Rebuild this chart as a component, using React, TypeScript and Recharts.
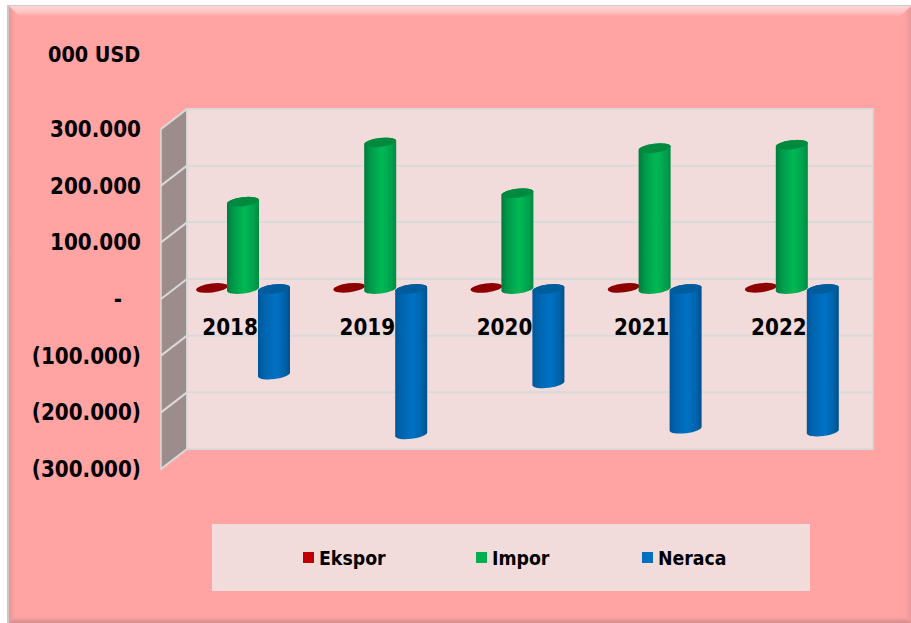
import React from "react";
import { BarChart, Bar, XAxis, YAxis, Legend, ReferenceArea, ReferenceLine } from "recharts";

const years = ["2018", "2019", "2020", "2021", "2022"];
const ekspor = [1800, 2100, 1900, 2000, 2200];
const impor = [154000, 258500, 169000, 248500, 254500];
const neraca = [-151000, -256500, -166500, -246500, -251500];
const yTicks = [-300000, -200000, -100000, 0, 100000, 200000, 300000];

const chartData = years.map((year, i) => ({
  year,
  Ekspor: ekspor[i],
  Impor: impor[i],
  Neraca: neraca[i],
}));

const FONT = "'DejaVu Sans Condensed', 'DejaVu Sans', sans-serif";
const DEPTH_X = 13;
const DEPTH_Y = 10;
const legendLefts = [91, 264, 430];

const formatTick = (v: number) => {
  if (v === 0) return "-";
  const s = Math.abs(v).toLocaleString("de-DE");
  return v < 0 ? `(${s})` : s;
};

const YTick = (props: any) => {
  const { y, payload } = props;
  const isZero = payload.value === 0;
  return (
    <text
      x={isZero ? 122 : 141}
      y={y + DEPTH_Y}
      dy={8}
      textAnchor="end"
      fontFamily={FONT}
      fontWeight="bold"
      fontSize={22.2}
      fill="#000"
    >
      {formatTick(payload.value)}
    </text>
  );
};

const XTick = (props: any) => {
  const { x, payload } = props;
  return (
    <text x={x - 12.5} y={335} textAnchor="middle" fontFamily={FONT} fontWeight="bold" fontSize={22.2} fill="#000">
      {payload.value}
    </text>
  );
};

// back wall and side wall, placed around the plot area
const Walls = (props: any) => {
  const { x, y, width, height } = props;
  const side = [
    [x - DEPTH_X, y + DEPTH_Y],
    [x + DEPTH_X, y - DEPTH_Y],
    [x + DEPTH_X, y + height - DEPTH_Y],
    [x - DEPTH_X, y + height + DEPTH_Y],
  ];
  return (
    <g>
      <polygon points={side.map((p) => p.join(",")).join(" ")} fill="#9C8C8B" stroke="#D9D9D9" strokeWidth={1.5} />
      <rect x={x + DEPTH_X} y={y - DEPTH_Y} width={width} height={height} fill="#F2DCDB" stroke="#D9D9D9" strokeWidth={1.5} />
    </g>
  );
};

const GridLine = (props: any) => {
  const { x1, x2, y1 } = props;
  return (
    <g>
      <line x1={x1 + DEPTH_X} x2={x2 + DEPTH_X} y1={y1 - DEPTH_Y} y2={y1 - DEPTH_Y} stroke="#D9D9D9" strokeWidth={2} />
      <line x1={x1 - DEPTH_X} x2={x1 + DEPTH_X} y1={y1 + DEPTH_Y} y2={y1 - DEPTH_Y} stroke="#D9D9D9" strokeWidth={2} />
    </g>
  );
};

const cylinder = (gradient: string, cap: string) => (props: any) => {
  const { x, y, width, height } = props;
  const top = Math.min(y, y + height);
  const bottom = Math.max(y, y + height);
  const rx = width / 2;
  const ry = 4.5;
  const tilt = 2;
  const cx = x + rx;
  const angle = -7;
  if (bottom - top < 6) {
    return <ellipse cx={cx} cy={top} rx={rx} ry={ry} fill={cap} transform={`rotate(${angle} ${cx} ${top})`} />;
  }
  const body = [
    `M${x},${top + tilt}`,
    `L${x},${bottom + tilt}`,
    `A${rx},${ry} ${angle} 0 0 ${x + width},${bottom - tilt}`,
    `L${x + width},${top - tilt}`,
    `A${rx},${ry} ${angle} 0 0 ${x},${top + tilt}`,
    "Z",
  ].join(" ");
  return (
    <g>
      <path d={body} fill={`url(#${gradient})`} />
      <ellipse cx={cx} cy={top} rx={rx} ry={ry} fill={cap} transform={`rotate(${angle} ${cx} ${top})`} />
    </g>
  );
};

const renderLegend = (props: any) => {
  const { payload } = props;
  return (
    <div style={{ position: "relative", width: 598, height: 67, background: "#F2DCDB" }}>
      {payload.map((item: any, i: number) => (
        <div
          key={item.value}
          style={{
            position: "absolute",
            left: legendLefts[i],
            top: 20,
            height: 28,
            display: "flex",
            alignItems: "center",
            fontFamily: FONT,
            fontWeight: "bold",
            fontSize: 19.3,
            color: "#000",
          }}
        >
          <span style={{ width: 11, height: 11, background: item.color, marginRight: 5, marginTop: -2 }} />
          {item.value}
        </div>
      ))}
    </div>
  );
};

const Frame = () => (
  <svg width={911} height={623} style={{ position: "absolute", left: 0, top: 0 }}>
    <defs>
      <linearGradient id="bevelTop" x1="0" y1="0" x2="0" y2="1">
        <stop offset="0" stopColor="#FFD6D6" />
        <stop offset="0.5" stopColor="#FFC4C4" />
        <stop offset="1" stopColor="#FFA3A3" />
      </linearGradient>
      <linearGradient id="bevelBottom" x1="0" y1="0" x2="0" y2="1">
        <stop offset="0" stopColor="#FFA3A3" />
        <stop offset="1" stopColor="#D48C8C" />
      </linearGradient>
      <linearGradient id="bevelLeft" x1="0" y1="0" x2="1" y2="0">
        <stop offset="0" stopColor="#E89898" />
        <stop offset="1" stopColor="#FFA3A3" />
      </linearGradient>
      <linearGradient id="bevelRight" x1="0" y1="0" x2="1" y2="0">
        <stop offset="0" stopColor="#FFA3A3" />
        <stop offset="1" stopColor="#E89898" />
      </linearGradient>
    </defs>
    <rect x={7} y={5} width={904} height={618} fill="#CFC6C6" />
    <rect x={9} y={6} width={902} height={617} fill="#FFA3A3" />
    <polygon points="9,6 15,12 15,617 9,623" fill="url(#bevelLeft)" />
    <polygon points="911,6 905,12 905,617 911,623" fill="url(#bevelRight)" />
    <polygon points="9,6 911,6 899,17 20,17" fill="url(#bevelTop)" />
    <polygon points="9,623 15,617 905,617 911,623" fill="url(#bevelBottom)" />
  </svg>
);

export default function App() {
  return (
    <div style={{ position: "absolute", left: 0, top: 0, width: 911, height: 623, overflow: "hidden" }}>
      <Frame />
      <BarChart
        width={911}
        height={623}
        data={chartData}
        barSize={32}
        barGap={-1}
        barCategoryGap={22}
        margin={{ top: 119, right: 51, bottom: 163, left: 0 }}
        style={{ position: "absolute", left: 0, top: 0 }}
      >
        <defs>
          <linearGradient id="greenBar" x1="0" y1="0" x2="1" y2="0">
            <stop offset="0" stopColor="#007A3A" />
            <stop offset="0.18" stopColor="#00984A" />
            <stop offset="0.55" stopColor="#00B955" />
            <stop offset="0.85" stopColor="#00A04C" />
            <stop offset="1" stopColor="#008A42" />
          </linearGradient>
          <linearGradient id="blueBar" x1="0" y1="0" x2="1" y2="0">
            <stop offset="0" stopColor="#005598" />
            <stop offset="0.18" stopColor="#0064AE" />
            <stop offset="0.55" stopColor="#0072C4" />
            <stop offset="0.85" stopColor="#0062A8" />
            <stop offset="1" stopColor="#004F8C" />
          </linearGradient>
        </defs>
        <ReferenceArea y1={-300000} y2={300000} shape={Walls} ifOverflow="visible" zIndex={100} />
        {yTicks.map((t) => (
          <ReferenceLine key={t} y={t} shape={GridLine} ifOverflow="visible" zIndex={150} />
        ))}
        <XAxis dataKey="year" height={1} axisLine={false} tickLine={false} tick={XTick} interval={0} />
        <YAxis
          width={174}
          domain={[-300000, 300000]}
          ticks={yTicks}
          axisLine={false}
          tickLine={false}
          tick={YTick}
          interval={0}
        />
        <Legend
          layout="vertical"
          align="center"
          verticalAlign="middle"
          content={renderLegend}
          wrapperStyle={{ left: 212, top: 524, width: 598, height: 67 }}
        />
        <Bar dataKey="Ekspor" fill="#C00000" shape={cylinder("greenBar", "#8E0000")} isAnimationActive={false} />
        <Bar dataKey="Impor" fill="#00B050" shape={cylinder("greenBar", "#008A40")} isAnimationActive={false} />
        <Bar dataKey="Neraca" fill="#0070C0" shape={cylinder("blueBar", "#005C9C")} isAnimationActive={false} />
        <text x={48} y={62} fontFamily={FONT} fontWeight="bold" fontSize={21.4} fill="#000">
          000 USD
        </text>
      </BarChart>
    </div>
  );
}
